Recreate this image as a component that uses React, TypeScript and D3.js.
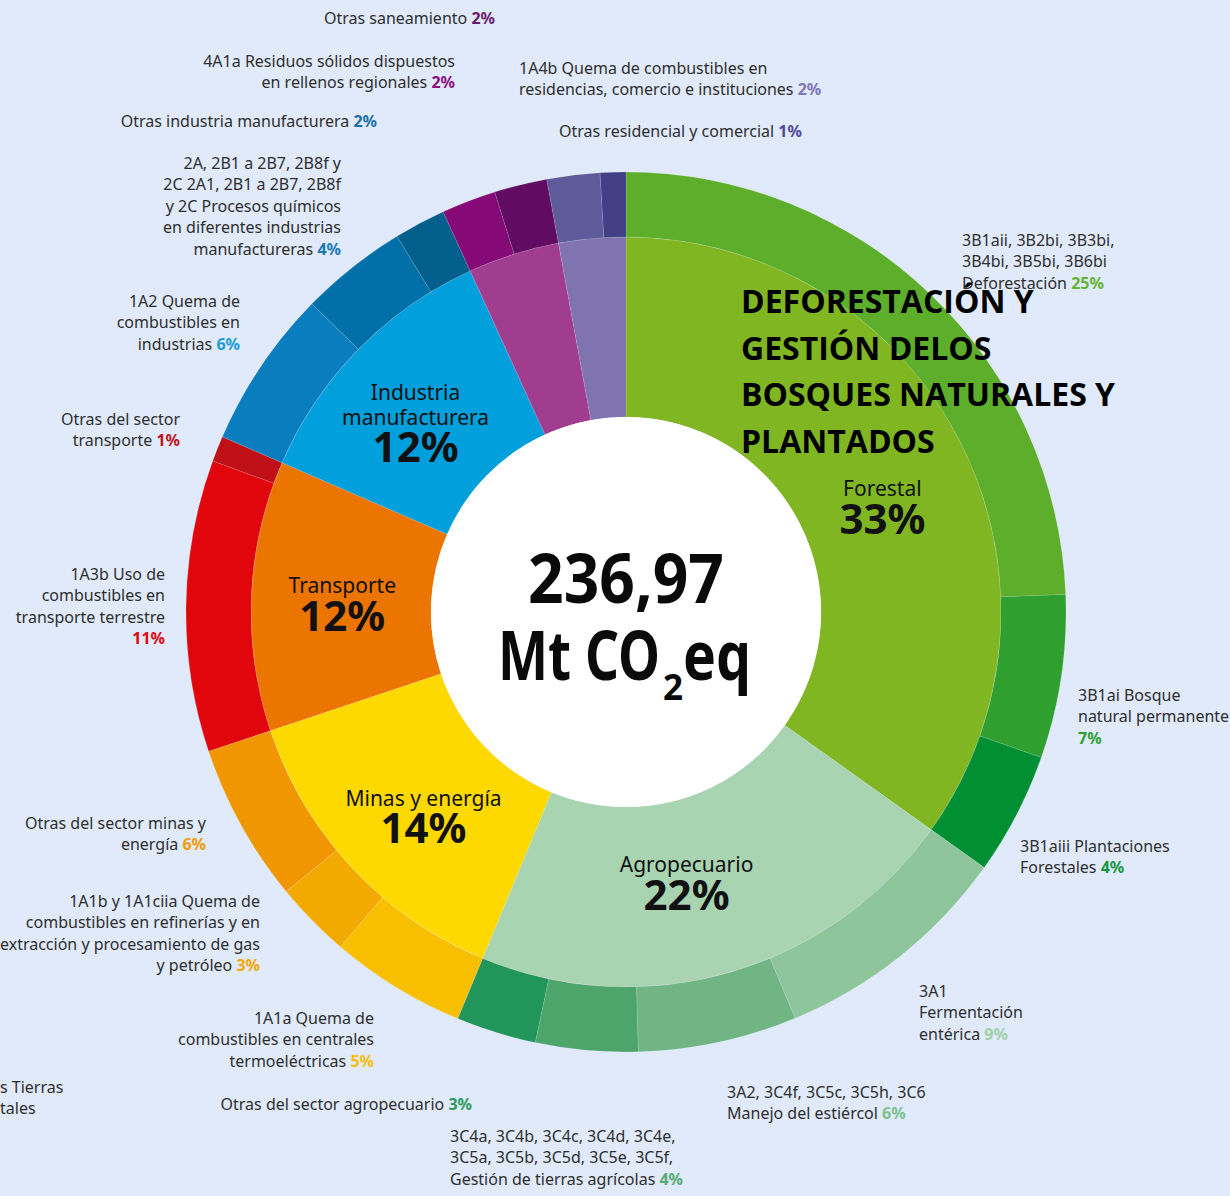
import * as d3 from "d3";

// sectors, clockwise from 12 o'clock
const SECTOR_NAMES = [
  ["Forestal"],
  ["Agropecuario"],
  ["Minas y energía"],
  ["Transporte"],
  ["Industria", "manufacturera"],
  [],
  [],
];
const SECTOR_PCT = ["33%", "22%", "14%", "12%", "12%", "", ""];
const SECTOR_COLORS = ["#80b622", "#a8d4b1", "#fdd900", "#ec7500", "#019fdb", "#a13d8e", "#7f74b0"];

// sub-categories (outer ring), share of the total in %
const SUB_SECTOR = [0, 0, 0, 1, 1, 1, 1, 2, 2, 2, 3, 3, 4, 4, 4, 5, 5, 6, 6];
const SUB_SHARE = [24.36, 6.0, 4.5, 8.86, 5.83, 3.75, 2.94, 5.0, 2.8, 5.83, 10.7, 0.94, 5.83, 3.94, 1.89, 2.0, 1.94, 1.94, 0.94];
const SUB_PCT = ["25%", "7%", "4%", "9%", "6%", "4%", "3%", "5%", "3%", "6%", "11%", "1%", "6%", "4%", "2%", "2%", "2%", "2%", "1%"];
const SUB_LINES = [
  ["3B1aii, 3B2bi, 3B3bi,", "3B4bi, 3B5bi, 3B6bi", "Deforestación"],
  ["3B1ai Bosque", "natural permanente", ""],
  ["3B1aiii Plantaciones", "Forestales"],
  ["3A1", "Fermentación", "entérica"],
  ["3A2, 3C4f, 3C5c, 3C5h, 3C6", "Manejo del estiércol"],
  ["3C4a, 3C4b, 3C4c, 3C4d, 3C4e,", "3C5a, 3C5b, 3C5d, 3C5e, 3C5f,", "Gestión de tierras agrícolas"],
  ["Otras del sector agropecuario"],
  ["1A1a Quema de", "combustibles en centrales", "termoeléctricas"],
  ["1A1b y 1A1ciia Quema de", "combustibles en refinerías y en", "extracción y procesamiento de gas", "y petróleo"],
  ["Otras del sector minas y", "energía"],
  ["1A3b Uso de", "combustibles en", "transporte terrestre", ""],
  ["Otras del sector", "transporte"],
  ["1A2 Quema de", "combustibles en", "industrias"],
  ["2A, 2B1 a 2B7, 2B8f y", "2C 2A1, 2B1 a 2B7, 2B8f", "y 2C Procesos químicos", "en diferentes industrias", "manufactureras"],
  ["Otras industria manufacturera"],
  ["4A1a Residuos sólidos dispuestos", "en rellenos regionales"],
  ["Otras saneamiento"],
  ["1A4b Quema de combustibles en", "residencias, comercio e instituciones"],
  ["Otras residencial y comercial"],
];
const SUB_COLORS = [
  "#5dae2a", "#2fa030", "#008f33",
  "#8ec59a", "#71b585", "#4ea56b", "#22955a",
  "#f7bf00", "#f3aa00", "#ef9600",
  "#e0060c", "#be1016",
  "#0a7dbf", "#0170a8", "#025f8c",
  "#850a78", "#600c62",
  "#5f5a99", "#433f85",
];
const PCT_COLORS = [
  "#63b531", "#2fa030", "#16983e",
  "#9fd0a8", "#7cbf8c", "#55aa72", "#2c9a5e",
  "#f5bd00", "#f3a800", "#f09a00",
  "#e0060c", "#c0141b",
  "#1b9bd7", "#1a78b6", "#1a70a8",
  "#8a1080", "#6b1a6b",
  "#7d75b5", "#4f4a98",
];

const TITLE_LINES = ["DEFORESTACIÓN Y", "GESTIÓN DELOS", "BOSQUES NATURALES Y", "PLANTADOS"];
const TOTAL_LABEL = "236,97";

// layout
const W = 1230;
const H = 1196;
const CX = 626;
const CY = 612;
const R0 = 195;
const R1 = 375;
const R2 = 440;
const LH = 21.5;
const LABEL_POS: [number, number, "start" | "end"][] = [
  [962, 240, "start"], [1078, 695, "start"], [1020, 846, "start"],
  [919, 991, "start"], [727, 1092, "start"], [450, 1136, "start"], [472, 1104, "end"],
  [374, 1018, "end"], [260, 901, "end"], [206, 823, "end"],
  [165, 574, "end"], [180, 419, "end"],
  [240, 301, "end"], [341, 163, "end"], [377, 121, "end"],
  [455, 61, "end"], [495, 18, "end"],
  [519, 68, "start"], [559, 131, "start"],
];
const SECTOR_NUDGE = [[3, 7], [-18, -21], [6, -8], [1, -14], [-7, -20], [0, 0], [0, 0]];

const FONT = "'Noto Sans', 'Open Sans', sans-serif";

export default function App() {
  const sectorTotals = SECTOR_COLORS.map((_, i) =>
    d3.sum(SUB_SHARE.filter((_, j) => SUB_SECTOR[j] === i))
  );

  const pie = d3
    .pie<number>()
    .sort(null)
    .value((d) => d)
    .startAngle(0)
    .endAngle(2 * Math.PI);

  const innerArcs = pie(sectorTotals);
  const outerArcs = pie(SUB_SHARE);

  const innerArc = d3.arc<d3.PieArcDatum<number>>().innerRadius(R0).outerRadius(R1);
  const outerArc = d3.arc<d3.PieArcDatum<number>>().innerRadius(R1).outerRadius(R2);
  const labelArc = d3.arc<d3.PieArcDatum<number>>().innerRadius(285).outerRadius(285);

  return (
    <svg
      width={W}
      height={H}
      style={{ position: "absolute", left: 0, top: 0, fontFamily: FONT }}
    >
      <rect width={W} height={H} fill="#e0eafb" />

      <g transform={`translate(${CX},${CY})`}>
        {innerArcs.map((a, i) => (
          <path key={"in" + i} d={innerArc(a) || ""} fill={SECTOR_COLORS[i]}
            stroke="#ffffff" strokeOpacity={0.2} strokeWidth={0.6} />
        ))}
        {outerArcs.map((a, i) => (
          <path key={"out" + i} d={outerArc(a) || ""} fill={SUB_COLORS[i]}
            stroke="#ffffff" strokeOpacity={0.2} strokeWidth={0.6} />
        ))}
        <circle r={R0} fill="#ffffff" />

        {innerArcs.map((a, i) => {
          if (!SECTOR_PCT[i]) return null;
          const [lx, ly] = labelArc.centroid(a);
          const x = lx + SECTOR_NUDGE[i][0];
          const y = ly + SECTOR_NUDGE[i][1];
          const names = SECTOR_NAMES[i];
          return (
            <g key={"sl" + i} textAnchor="middle" fill="#111">
              {names.map((n, k) => (
                <text key={k} x={x} y={y + k * 25 + 7.5} fontSize={21}>{n}</text>
              ))}
              <text x={x} y={y + (names.length - 1) * 25 + 30 + 15} fontSize={42} fontWeight={700}>
                {SECTOR_PCT[i]}
              </text>
            </g>
          );
        })}

        <text x={0} y={-9} textAnchor="middle" fontSize={68} fontWeight={700}
          fill="#0a0a0a" textLength={196} lengthAdjust="spacingAndGlyphs">
          {TOTAL_LABEL}
        </text>
        <text x={-128} y={68} fontSize={68} fontWeight={700} fill="#0a0a0a"
          textLength={162} lengthAdjust="spacingAndGlyphs">Mt CO</text>
        <text x={37} y={88} fontSize={35} fontWeight={700} fill="#0a0a0a">2</text>
        <text x={57} y={68} fontSize={68} fontWeight={700} fill="#0a0a0a"
          textLength={68} lengthAdjust="spacingAndGlyphs">eq</text>
      </g>

      {SUB_LINES.map((lines, i) => {
        const [x, y0, anchor] = LABEL_POS[i];
        return (
          <text key={"lab" + i} textAnchor={anchor} fontSize={16} fill="#2e2e2e">
            {lines.map((line, k) => {
              const last = k === lines.length - 1;
              return (
                <tspan key={k} x={x} y={y0 + k * LH + 5.5}>
                  {line}
                  {last ? (
                    <tspan fontWeight={700} fill={PCT_COLORS[i]}>
                      {(line ? " " : "") + SUB_PCT[i]}
                    </tspan>
                  ) : null}
                </tspan>
              );
            })}
          </text>
        );
      })}

      <text fontSize={16} fill="#2e2e2e">
        <tspan x={0} y={1087 + 5.5}>s Tierras</tspan>
        <tspan x={0} y={1108 + 5.5}>tales</tspan>
      </text>

      <g fontFamily="'Open Sans', sans-serif" fontWeight={700} fontSize={32} fill="#000">
        {TITLE_LINES.map((t, k) => (
          <text key={k} x={741} y={313 + k * 46.7}>{t}</text>
        ))}
      </g>
    </svg>
  );
}
